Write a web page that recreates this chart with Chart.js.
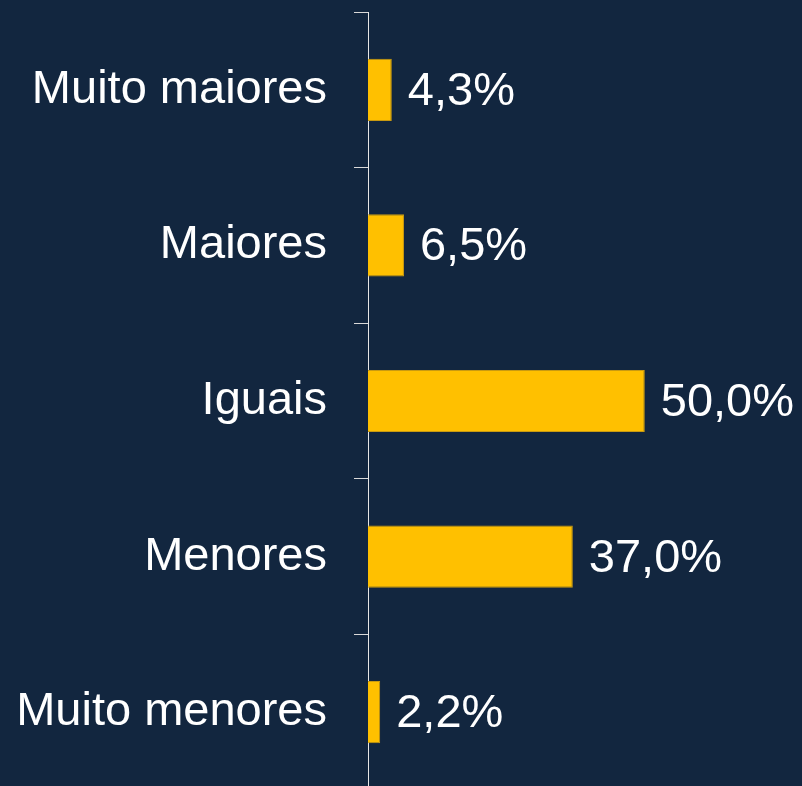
<!DOCTYPE html>
<html>
<head>
<meta charset="utf-8">
<script src="https://cdn.jsdelivr.net/npm/chart.js@4"></script>
<style>
    html, body { margin: 0; padding: 0; background: #12263f; overflow: hidden; }
    #wrap { width: 802px; height: 790px; }
</style>
</head>
<body>
<div id="wrap"><canvas id="chart"></canvas></div>
<script>
// Distribuicao das respostas
const categories = ['Muito maiores', 'Maiores', 'Iguais', 'Menores', 'Muito menores'];
const values = [4.3, 6.5, 50.0, 37.0, 2.2];
const valueLabels = ['4,3%', '6,5%', '50,0%', '37,0%', '2,2%'];

const FONT = '"Liberation Sans", Arial, sans-serif';

const valueLabelPlugin = {
    id: 'valueLabels',
    afterDatasetsDraw(chart) {
        const { ctx } = chart;
        const meta = chart.getDatasetMeta(0);
        ctx.save();
        ctx.fillStyle = '#ffffff';
        ctx.font = `47px ${FONT}`;
        ctx.textAlign = 'left';
        ctx.textBaseline = 'middle';
        meta.data.forEach((bar, i) => {
            ctx.fillText(valueLabels[i], bar.x + 16, bar.y + 2);
        });
        ctx.restore();
    }
};

new Chart(document.getElementById('chart'), {
    type: 'bar',
    data: {
        labels: categories,
        datasets: [{
            data: values,
            backgroundColor: '#ffc000',
            borderColor: '#c99a10',
            borderWidth: 1,
            barPercentage: 0.4,
            categoryPercentage: 1
        }]
    },
    options: {
        indexAxis: 'y',
        responsive: true,
        maintainAspectRatio: false,
        animation: false,
        layout: { padding: { top: 12, right: 0, bottom: 0, left: 0 } },
        plugins: {
            legend: { display: false },
            tooltip: { enabled: false }
        },
        scales: {
            x: {
                display: false,
                min: 0,
                max: 78.4
            },
            y: {
                offset: true,
                afterFit: scale => {
                    scale.width = 368;
                    scale.paddingTop = 0;
                    scale.paddingBottom = 0;
                },
                border: { display: true, color: '#e6e6e6', width: 1 },
                grid: {
                    offset: true,
                    drawOnChartArea: false,
                    drawTicks: true,
                    tickLength: 14,
                    color: '#d9d9d9'
                },
                ticks: {
                    color: '#ffffff',
                    padding: 27,
                    font: { family: FONT, size: 47 }
                }
            }
        }
    },
    plugins: [valueLabelPlugin]
});
</script>
</body>
</html>
